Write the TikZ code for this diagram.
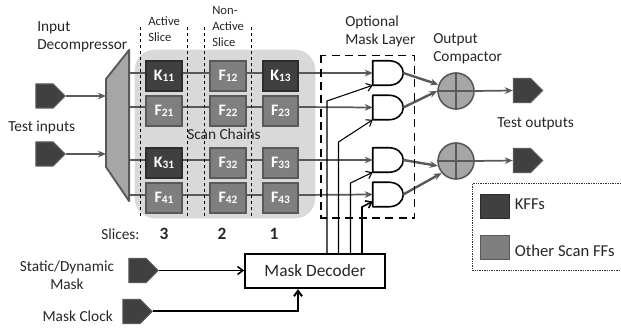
\documentclass[tikz,border=0pt]{standalone}
\usepackage{fontspec}
\setmainfont{Carlito}
\usetikzlibrary{arrows.meta,shapes.symbols}
\pgfdeclarelayer{bg}\pgfdeclarelayer{wires}
\pgfsetlayers{bg,wires,main}
\definecolor{kff}{HTML}{404040}
\definecolor{off}{HTML}{7F7F7F}
\definecolor{edge}{HTML}{595959}
\definecolor{mid}{HTML}{A6A6A6}
\definecolor{panel}{HTML}{D9D9D9}
\tikzset{
 ffbase/.style={draw=edge,line width=1.4pt,minimum width=26.5pt,minimum height=22pt,inner sep=0pt,text=white,font=\fontsize{12}{14}\selectfont\bfseries},
 kbox/.style={ffbase,fill=kff,draw=kff!70!black},
 fbox/.style={ffbase,fill=off},
 pent/.style={shape=signal,signal to=east,signal pointer angle=90,draw=edge,fill=kff,line width=0.8pt,minimum width=22pt,minimum height=18pt,inner sep=0pt},
 txt/.style={font=\fontsize{11.5}{13.6}\selectfont,inner sep=0pt,align=left,text=black!85},
 legendtxt/.style={txt,font=\fontsize{12.5}{14}\selectfont},
 small/.style={txt,font=\fontsize{9.5}{12}\selectfont},
 wire/.style={draw=edge,line width=1.3pt,-{Stealth[length=6pt,width=5pt]}},
 plain/.style={draw=edge,line width=1.3pt},
 ctl/.style={draw=black,line width=0.8pt,-{Straight Barb[length=4pt,width=6pt]}},
 thk/.style={draw=black,line width=1.15pt,-{Straight Barb[length=4pt,width=6pt]}},
 gatebox/.style={minimum width=22.5pt,minimum height=18pt,inner sep=0pt},
 cmp/.style={circle,draw=edge,fill=mid,line width=1.2pt,minimum size=27pt,inner sep=0pt},
 sliceln/.style={draw=black,line width=0.4pt,dash pattern=on 2.5pt off 2pt},
}
\newcommand{\ffname}[2]{#1{\fontsize{8.5}{10}\selectfont\raisebox{-0.6pt}{#2}}}
\newcommand{\andgate}[3]{%
 \node[gatebox] (#1) at (#2,#3) {};
 \draw[line width=1.2pt,fill=white,line join=round] (#1.north west) -- ([xshift=12pt]#1.north west) .. controls +(6.5pt,0) and +(0,5pt) .. (#1.east) .. controls +(0,-5pt) and +(6.5pt,0) .. ([xshift=12pt]#1.south west) -- (#1.south west) -- cycle;
}
\newcommand{\cmpplus}[1]{\draw[edge,line width=1.2pt] (#1.north) -- (#1.south) (#1.west) -- (#1.east);}
\begin{document}
\begin{tikzpicture}[x=0.75pt,y=-0.75pt]
\useasboundingbox (0,0) rectangle (621,331);
% row reference levels
\coordinate (r1) at (0,73);
\coordinate (r2) at (0,107);
\coordinate (r3) at (0,160);
\coordinate (r4) at (0,195);
% panel
\node[minimum width=135pt,minimum height=126pt,inner sep=0pt] (panelbox) at (225,134) {};
\begin{pgfonlayer}{bg}
\fill[panel,rounded corners=15pt] (panelbox.north west) rectangle (panelbox.south east);
\end{pgfonlayer}
% decompressor
\node[minimum width=17pt,minimum height=113pt,inner sep=0pt] (dec) at (117.5,125.5) {};
\draw[edge,fill=mid,line width=1.4pt,line join=round] (dec.north east) -- (106,79) -- (106,167) -- (dec.south east) -- cycle;
% flip-flops
\node[kbox] (K11) at (164,76) {\ffname{K}{11}};
\node[fbox] (F12) at (228,76) {\ffname{F}{12}};
\node[kbox] (K13) at (280.5,76) {\ffname{K}{13}};
\node[fbox] (F21) at (164,111) {\ffname{F}{21}};
\node[fbox] (F22) at (228,111) {\ffname{F}{22}};
\node[fbox] (F23) at (280.5,111) {\ffname{F}{23}};
\node[kbox] (K31) at (164,163) {\ffname{K}{31}};
\node[fbox] (F32) at (228,163) {\ffname{F}{32}};
\node[fbox] (F33) at (280.5,163) {\ffname{F}{33}};
\node[fbox] (F41) at (164,198) {\ffname{F}{41}};
\node[fbox] (F42) at (228,198) {\ffname{F}{42}};
\node[fbox] (F43) at (280.5,198) {\ffname{F}{43}};
% gates
\andgate{g1}{388}{73}
\andgate{g2}{388}{107.5}
\andgate{g3}{388}{160}
\andgate{g4}{388}{194.5}
% compactors
\node[cmp] (c1) at (456,91) {}; \cmpplus{c1}
\node[cmp] (c2) at (456,161) {}; \cmpplus{c2}
% ports
\node[pent] (in1) at (44.5,96) {};
\node[pent] (in2) at (44.5,154) {};
\node[pent] (out1) at (522,90.5) {};
\node[pent] (out2) at (522,160.5) {};
\node[pent] (mk) at (137.5,270.5) {};
\node[pent] (clk) at (131.5,311.5) {};
% decoder
\node[draw=black,line width=1.3pt,minimum width=105pt,minimum height=26pt,inner sep=0pt,font=\fontsize{13}{15}\selectfont,text=black!85] (md) at (315,271) {Mask Decoder};
% wires
\begin{pgfonlayer}{wires}
\draw[plain] (dec.east |- r1) -- (K11.west |- r1) (K11.east |- r1) -- (F12.west |- r1) (F12.east |- r1) -- (K13.west |- r1);
\draw[wire] (K13.east |- r1) -- (g1.west);
\draw[plain] (dec.east |- r2) -- (F21.west |- r2) (F21.east |- r2) -- (F22.west |- r2) (F22.east |- r2) -- (F23.west |- r2);
\draw[wire] (F23.east |- r2) -- (g2.west);
\draw[plain] (dec.east |- r3) -- (K31.west |- r3) (K31.east |- r3) -- (F32.west |- r3) (F32.east |- r3) -- (F33.west |- r3);
\draw[wire] (F33.east |- r3) -- (g3.west);
\draw[plain] (dec.east |- r4) -- (F41.west |- r4) (F41.east |- r4) -- (F42.west |- r4) (F42.east |- r4) -- (F43.west |- r4);
\draw[wire] (F43.east |- r4) -- (g4.west);
\end{pgfonlayer}
\draw[wire] (in1.east) -- (dec.west |- in1.east);
\draw[wire] (in2.east) -- (dec.west |- in2.east);
\draw[wire] (c1.east) -- (out1.west);
\draw[wire] (c2.east) -- (out2.west);
\draw[wire,line width=1.8pt] (g1.east) -- (c1.160);
\draw[wire,line width=1.8pt] (g2.east) -- (c1.west);
\draw[wire,line width=1.8pt] (g3.east) -- (c2.195);
\draw[wire,line width=1.8pt] (g4.east) -- (c2.220);
% mask lines
\coordinate (m1) at (327,101); \coordinate (m2) at (338.5,142);
\coordinate (m3) at (350.5,183); \coordinate (m4) at (362,207);
\coordinate (ck) at (298,311);
\draw[ctl] (m1 |- md.north) -- (m1) -- (g1.south west);
\draw[ctl] (m2 |- md.north) -- (m2) -- (g2.south west);
\draw[ctl] (m3 |- md.north) -- (m3) -- (g3.south west);
\draw[thk] (m4 |- md.north) -- (m4) -- ([yshift=4pt]g4.south west);
\draw[thk] (mk.east) -- (md.west |- mk.east);
\draw[thk,line width=1.5pt] (clk.east) -- (ck |- clk.east) -- (ck |- md.south);
% slice separators
\coordinate (s1) at (140,27); \coordinate (s2) at (187.5,27);
\coordinate (s3) at (204.5,27); \coordinate (s4) at (251.5,27);
\draw[sliceln] (s1) -- (s1 |- panelbox.south);
\draw[sliceln] (s2) -- (s2 |- panelbox.south);
\draw[sliceln] (s3) -- (s3 |- panelbox.south);
\draw[sliceln] (s4) -- (s4 |- panelbox.south);
% optional layer box
\draw[black,line width=1.2pt,dash pattern=on 6pt off 4pt] (321,55.5) rectangle (414.5,218);
% legend
\draw[black!80,line width=0.4pt,dash pattern=on 1pt off 0.8pt] (621,183.5) -- (472.5,183.5) -- (472.5,270.5) -- (621,270.5);
\node[draw=kff!70!black,fill=kff,line width=1pt,minimum width=22pt,minimum height=18pt,inner sep=0pt] (lk) at (495,206.5) {};
\node[draw=edge,fill=off,line width=1.2pt,minimum width=22pt,minimum height=18pt,inner sep=0pt] (lo) at (495,247.5) {};
\node[legendtxt,anchor=west] (lkt) at (514.5,204) {KFFs};
\node[legendtxt,anchor=west] (lot) at (514.5,250.5) {Other Scan FFs};
% labels
\node[txt,anchor=west] (t1) at (37,37) {Input\\Decompressor};
\node[txt,anchor=west] (t2) at (8,127) {Test inputs};
\node[small,anchor=west] (t3) at (148,29) {Active\\Slice};
\node[small,anchor=west] (t4) at (212,26) {Non-\\Active\\Slice};
\node[txt] (t5) at (224,134) {Scan Chains};
\node[txt,anchor=west] (t6) at (345,31) {Optional\\Mask Layer};
\node[txt,anchor=west] (t7) at (433,49) {Output\\Compactor};
\node[txt,anchor=west] (t8) at (497,124) {Test outputs};
\node[txt,anchor=west] (t9) at (101,234) {Slices:};
\node[txt,font=\fontsize{13}{15}\selectfont\bfseries] (n3) at (164,234) {3};
\node[txt,font=\fontsize{13}{15}\selectfont\bfseries] (n2) at (222,234) {2};
\node[txt,font=\fontsize{13}{15}\selectfont\bfseries] (n1) at (274,234) {1};
\node[txt,align=center] (t10) at (67,275.5) {Static/Dynamic\\Mask};
\node[txt,anchor=east] (t11) at (113,316) {Mask Clock};
\end{tikzpicture}
\end{document}
